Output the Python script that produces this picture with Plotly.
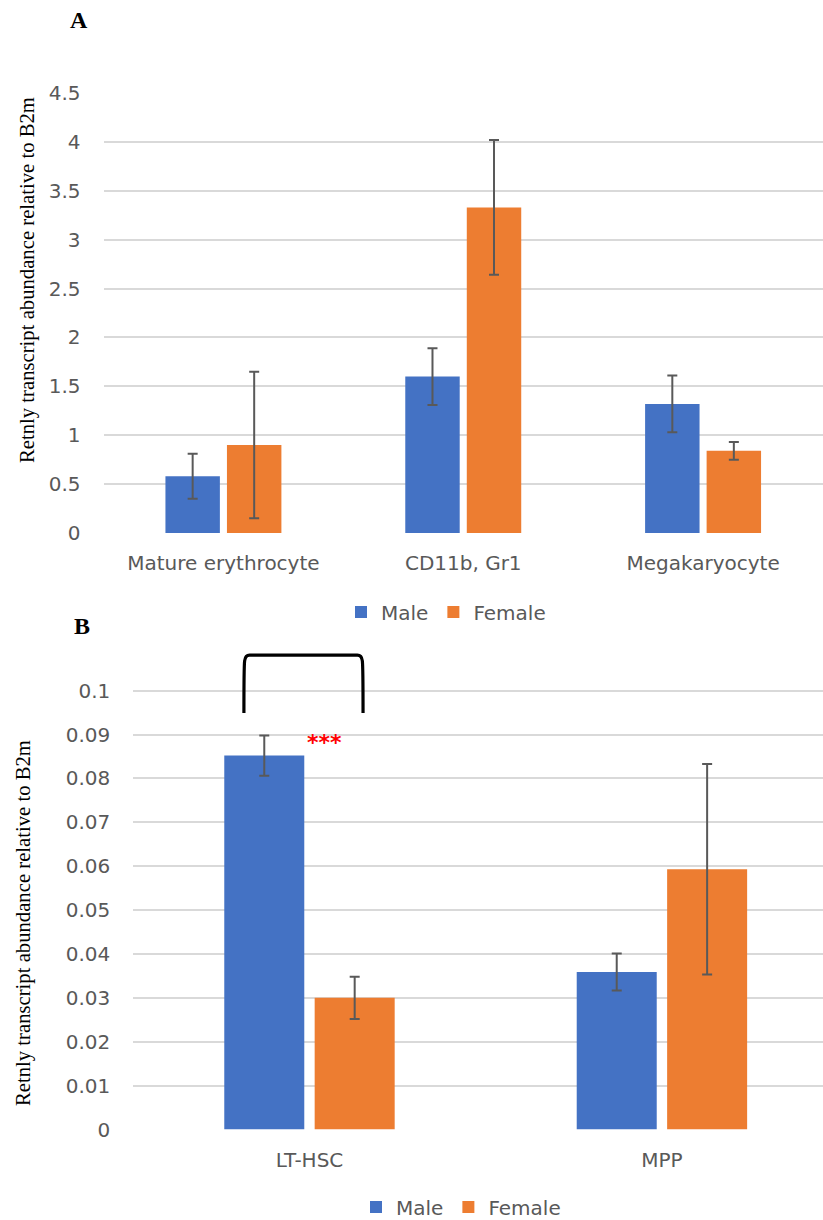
import plotly.graph_objects as go

# ---- data ----
cats_A = ["Mature erythrocyte", "CD11b, Gr1", "Megakaryocyte"]
male_A = [0.58, 1.60, 1.32]
male_A_err = [0.23, 0.29, 0.29]
female_A = [0.90, 3.33, 0.84]
female_A_err = [0.75, 0.69, 0.09]
ticks_A = [0, 0.5, 1, 1.5, 2, 2.5, 3, 3.5, 4, 4.5]

cats_B = ["LT-HSC", "MPP"]
male_B = [0.0852, 0.0359]
male_B_err = [0.0046, 0.0042]
female_B = [0.0300, 0.0593]
female_B_err = [0.0048, 0.0240]
ticks_B = [0, 0.01, 0.02, 0.03, 0.04, 0.05, 0.06, 0.07, 0.08, 0.09, 0.1]
tick_text_B = ["0", "0.01", "0.02", "0.03", "0.04", "0.05", "0.06", "0.07", "0.08", "0.09", "0.1"]

series_names = ["Male", "Female"]
colors = ["#4472C4", "#ED7D31"]
y_title = "Retnly transcript abundance relative to B2m"
signif_text = "***"

W, H = 823, 1220
GRAY = "#595959"
SANS = "DejaVu Sans"
TICKFONT = dict(family=SANS, size=20, color=GRAY)
err_style = dict(type="data", color=GRAY, thickness=2, width=5)

fig = go.Figure()

# Panel A
for name, vals, errs, col in [(series_names[0], male_A, male_A_err, colors[0]),
                              (series_names[1], female_A, female_A_err, colors[1])]:
    fig.add_trace(go.Bar(x=cats_A, y=vals, name=name, marker=dict(color=col, line=dict(width=0)),
                         error_y=dict(array=errs, **err_style),
                         xaxis="x", yaxis="y", legend="legend"))

# Panel B (numeric x with category tick labels)
xB = list(range(len(cats_B)))
for name, vals, errs, col in [(series_names[0], male_B, male_B_err, colors[0]),
                              (series_names[1], female_B, female_B_err, colors[1])]:
    fig.add_trace(go.Bar(x=xB, y=vals, name=name, marker=dict(color=col, line=dict(width=0)),
                         error_y=dict(array=errs, **err_style),
                         xaxis="x2", yaxis="y2", legend="legend2"))

def px_x(p):
    return p / W

def px_y(p):
    return 1 - p / H

grid = dict(showgrid=True, gridcolor="#D9D9D9", gridwidth=1.5, zeroline=False,
            showline=False, ticks="", tickfont=TICKFONT, ticklabelstandoff=22,
            fixedrange=True, automargin=False)
xcommon = dict(showgrid=False, zeroline=False, showline=False, ticks="", tickfont=TICKFONT,
               ticklabelstandoff=16, fixedrange=True, automargin=False)

fig.update_layout(
    width=W, height=H,
    margin=dict(l=0, r=0, t=0, b=0, autoexpand=False),
    paper_bgcolor="white", plot_bgcolor="white",
    barmode="group", bargap=0.487, bargroupgap=0.115,
    xaxis=dict(domain=[px_x(103.5), 1.0], range=[-0.5, 2.5], anchor="y", **xcommon),
    yaxis=dict(domain=[px_y(533), px_y(93)], range=[0, 4.5], tickvals=ticks_A,
               ticktext=[("%g" % t) for t in ticks_A], anchor="x", **grid),
    xaxis2=dict(domain=[px_x(133.25), 1.0], range=[-0.5, 1.457], tickvals=xB, ticktext=cats_B,
                anchor="y2", **xcommon),
    yaxis2=dict(domain=[px_y(1129.5), px_y(642.4)], range=[0, 0.111], tickvals=ticks_B,
                ticktext=tick_text_B, anchor="x2", **grid),
    legend=dict(orientation="h", x=px_x(446), y=px_y(612), xanchor="center", yanchor="middle",
                font=dict(family=SANS, size=20, color=GRAY), traceorder="normal",
                bgcolor="rgba(0,0,0,0)"),
    legend2=dict(orientation="h", x=px_x(461), y=px_y(1207), xanchor="center", yanchor="middle",
                 font=dict(family=SANS, size=20, color=GRAY), traceorder="normal",
                 bgcolor="rgba(0,0,0,0)"),
    showlegend=True,
)

# significance bracket (panel B, between LT-HSC bars)
bx0, bx1, by0, by1 = -0.186, 0.152, 0.0949, 0.1081
rx, ry = 0.016, 0.0013
path = (f"M {bx0},{by0} Q {bx0},{by1 - ry*2} {bx0 + 0.002},{by1 - ry} "
        f"Q {bx0 + 0.004},{by1} {bx0 + rx},{by1} "
        f"L {bx1 - rx},{by1} Q {bx1 - 0.004},{by1} {bx1 - 0.002},{by1 - ry} "
        f"Q {bx1},{by1 - ry*2} {bx1},{by0}")
fig.add_shape(type="path", path=path, xref="x2", yref="y2",
              line=dict(color="black", width=3.2), fillcolor="rgba(0,0,0,0)")

fig.add_annotation(x=0.043, y=0.0882, xref="x2", yref="y2", text=signif_text, showarrow=False,
                   font=dict(family="DejaVu Sans", size=22, color="red", weight="bold"),
                   xanchor="center", yanchor="middle")

# y-axis titles
serif = "Liberation Serif"
fig.add_annotation(x=px_x(27), y=px_y(280), xref="paper", yref="paper", text=y_title,
                   textangle=-90, showarrow=False, font=dict(family=serif, size=20.7, color="black"),
                   xanchor="center", yanchor="middle")
fig.add_annotation(x=px_x(23), y=px_y(923), xref="paper", yref="paper", text=y_title,
                   textangle=-90, showarrow=False, font=dict(family=serif, size=20.7, color="black"),
                   xanchor="center", yanchor="middle")

# panel letters
fig.add_annotation(x=px_x(79), y=px_y(20), xref="paper", yref="paper", text="<b>A</b>",
                   showarrow=False, font=dict(family=serif, size=24, color="black"),
                   xanchor="center", yanchor="middle")
fig.add_annotation(x=px_x(82), y=px_y(626), xref="paper", yref="paper", text="<b>B</b>",
                   showarrow=False, font=dict(family=serif, size=24, color="black"),
                   xanchor="center", yanchor="middle")

fig.write_html("out.html")
